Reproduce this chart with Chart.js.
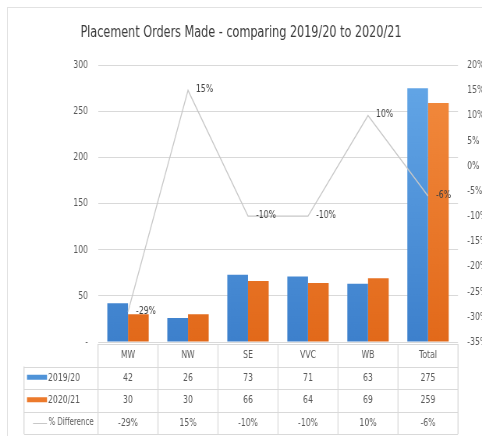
<!DOCTYPE html>
<html>
<head>
<meta charset="utf-8">
<script src="https://cdn.jsdelivr.net/npm/chart.js@4"></script>
<style>
  html, body { margin: 0; padding: 0; background: #fff; overflow: hidden; }
  #wrap { position: relative; width: 482px; height: 436px; }
  #frame { position: absolute; left: 7px; top: 7px; width: 520px; height: 520px;
           border-left: 1px solid #e2e2e2; border-top: 1px solid #e2e2e2; }
  #chart { position: absolute; left: 0; top: 0; }
</style>
</head>
<body>
<div id="wrap">
  <div id="frame"></div>
  <!-- drawn wider, shown at 482px: gives the narrow text of the original -->
  <canvas id="chart" width="618" height="436" style="width:482px;height:436px"></canvas>
</div>
<script>
// data
const categories = ['MW', 'NW', 'SE', 'VVC', 'WB', 'Total'];
const orders1920 = [42, 26, 73, 71, 63, 275];
const orders2021 = [30, 30, 66, 64, 69, 259];
const pctDiff = [-29, 15, -10, -10, 10, -6];
const seriesNames = ['2019/20', '2020/21', '% Difference'];

const SX = 618 / 482; // screen px -> canvas px, horizontally
const FONT = "'DejaVu Sans Condensed', 'DejaVu Sans', sans-serif";
const TEXT = '#595959';
const GRID = '#d9d9d9';
const BLUE = '#4f93d8';
const ORANGE = '#ec7a2c';
const LINE = '#c8c8c8';

// Excel-ish vertical gradient on bars
const barFill = (top, bottom) => ctx => {
  const a = ctx.chart.chartArea;
  if (!a) return bottom;
  const g = ctx.chart.ctx.createLinearGradient(0, a.top, 0, a.bottom);
  g.addColorStop(0, top);
  g.addColorStop(1, bottom);
  return g;
};

// labels next to the % line points
const lineLabels = {
  id: 'lineLabels',
  afterDatasetsDraw(chart) {
    const ctx = chart.ctx;
    const meta = chart.getDatasetMeta(2);
    ctx.save();
    ctx.font = '11px ' + FONT;
    ctx.fillStyle = '#404040';
    ctx.textAlign = 'left';
    ctx.textBaseline = 'middle';
    meta.data.forEach((pt, i) => {
      ctx.fillText(pctDiff[i] + '%', pt.x + 8 * SX, pt.y - 1);
    });
    ctx.restore();
  }
};

// data table under the x axis
const dataTable = {
  id: 'dataTable',
  afterDraw(chart) {
    const ctx = chart.ctx;
    const area = chart.chartArea;
    const xs = chart.scales.x;
    const n = categories.length;
    const colW = (area.right - area.left) / n;
    const top = Math.round(area.bottom) + 2;
    const rowH = 22.5;
    const legLeft = 24 * SX;
    const rows = [orders1920, orders2021, pctDiff.map(v => v + '%')];
    const py = v => Math.round(v) + 0.5;

    ctx.save();
    ctx.strokeStyle = GRID;
    ctx.lineWidth = 1;
    ctx.beginPath();
    ctx.moveTo(area.left, py(top)); ctx.lineTo(area.right, py(top));
    for (let r = 1; r <= 4; r++) {
      ctx.moveTo(legLeft, py(top + r * rowH)); ctx.lineTo(area.right, py(top + r * rowH));
    }
    ctx.stroke();
    ctx.lineWidth = SX;
    ctx.beginPath();
    for (let c = 0; c <= n; c++) {
      const x = area.left + c * colW;
      ctx.moveTo(x, top); ctx.lineTo(x, top + 4 * rowH);
    }
    ctx.moveTo(legLeft, top + rowH); ctx.lineTo(legLeft, top + 4 * rowH);
    ctx.stroke();

    ctx.font = '11px ' + FONT;
    ctx.fillStyle = TEXT;
    ctx.textBaseline = 'middle';
    ctx.textAlign = 'center';
    categories.forEach((c, i) => {
      ctx.fillText(c, xs.getPixelForValue(i), top + rowH / 2);
    });
    rows.forEach((row, r) => {
      const y = top + (r + 1.5) * rowH;
      row.forEach((v, i) => ctx.fillText(String(v), xs.getPixelForValue(i), y));
    });

    // legend keys
    ctx.textAlign = 'left';
    const keyY = r => top + (r + 1.5) * rowH;
    ctx.fillStyle = BLUE;
    ctx.fillRect(27 * SX, keyY(0) - 3, 20 * SX, 5);
    ctx.fillStyle = ORANGE;
    ctx.fillRect(27 * SX, keyY(1) - 3, 20 * SX, 5);
    ctx.strokeStyle = LINE;
    ctx.lineWidth = 1;
    ctx.beginPath();
    ctx.moveTo(33 * SX, py(keyY(2))); ctx.lineTo(47 * SX, py(keyY(2)));
    ctx.stroke();
    ctx.fillStyle = TEXT;
    ctx.fillText(seriesNames[0], 48 * SX, keyY(0));
    ctx.fillText(seriesNames[1], 48 * SX, keyY(1));
    ctx.font = '10px ' + FONT;
    ctx.fillText(seriesNames[2], 48.5 * SX, keyY(2));
    ctx.restore();
  }
};

new Chart(document.getElementById('chart'), {
  type: 'bar',
  data: {
    labels: categories,
    datasets: [
      {
        label: seriesNames[0],
        data: orders1920,
        backgroundColor: barFill('#65a8e8', '#3d80cc'),
        yAxisID: 'y',
        order: 1
      },
      {
        label: seriesNames[1],
        data: orders2021,
        backgroundColor: barFill('#f38c40', '#e2691a'),
        yAxisID: 'y',
        order: 1
      },
      {
        type: 'line',
        label: seriesNames[2],
        data: pctDiff,
        borderColor: LINE,
        borderWidth: 1.3,
        pointRadius: 0,
        tension: 0,
        yAxisID: 'y1',
        order: 0
      }
    ]
  },
  options: {
    responsive: false,
    animation: false,
    devicePixelRatio: 1,
    layout: { padding: 0 },
    datasets: {
      bar: { categoryPercentage: 0.69, barPercentage: 1 }
    },
    scales: {
      x: {
        grid: { display: false },
        border: { display: false },
        ticks: { display: false },
        afterFit: s => { s.height = 94; }
      },
      y: {
        position: 'left',
        min: 0,
        max: 300,
        grid: { color: GRID, drawTicks: false },
        border: { display: false },
        ticks: {
          stepSize: 50,
          padding: 10 * SX,
          color: TEXT,
          font: { family: FONT, size: 11 },
          callback: v => v === 0 ? '-' : v
        },
        afterFit: s => { s.width = 98 * SX; }
      },
      y1: {
        position: 'right',
        min: -35,
        max: 20,
        grid: { display: false },
        border: { display: false },
        ticks: {
          stepSize: 5,
          padding: 3 * SX,
          color: TEXT,
          font: { family: FONT, size: 11 },
          callback: v => v + '%'
        },
        afterFit: s => { s.width = 24 * SX; }
      }
    },
    plugins: {
      legend: { display: false },
      tooltip: { enabled: false },
      title: {
        display: true,
        text: 'Placement Orders Made - comparing 2019/20 to 2020/21',
        color: '#3a3a3a',
        font: { family: FONT, size: 16, weight: 'normal', lineHeight: 1.2 },
        padding: { top: 23, bottom: 23 }
      }
    }
  },
  plugins: [lineLabels, dataTable]
});
</script>
</body>
</html>
